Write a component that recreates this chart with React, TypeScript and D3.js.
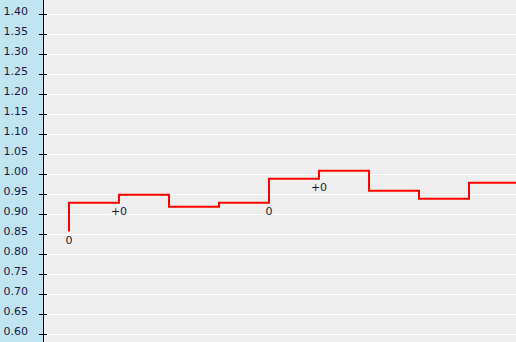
import React from "react";
import * as d3 from "d3";

const W = 516;
const H = 342;

const yTicks = [1.4, 1.35, 1.3, 1.25, 1.2, 1.15, 1.1, 1.05, 1.0, 0.95, 0.9, 0.85, 0.8, 0.75, 0.7, 0.65, 0.6];
const stepIndex = [0, 1, 2, 3, 4, 5, 6, 7, 8, 9];
const stepValues = [0.856, 0.928, 0.948, 0.918, 0.928, 0.988, 1.008, 0.958, 0.938, 0.978];
const pointLabels = ["0", "+0", "", "", "0", "+0", "", "", "", ""];

export default function App() {
  const x = d3.scaleLinear().domain([0, 1]).range([69, 119]);
  const y = d3.scaleLinear().domain([1.4, 0.6]).range([14, 334]);
  const data = stepIndex.map((i, k) => ({ i, v: stepValues[k], label: pointLabels[k] }));
  const line = d3
    .line<{ i: number; v: number }>()
    .x((d) => x(d.i))
    .y((d) => y(d.v))
    .curve(d3.curveStepBefore);
  const axisX = 43;
  const font = "Tahoma, 'DejaVu Sans', sans-serif";
  return (
    <svg
      width={W}
      height={H}
      style={{ position: "absolute", left: 0, top: 0, display: "block" }}
    >
      <defs>
        <clipPath id="plot">
          <rect x={axisX + 1} y={0} width={W - axisX - 1} height={H} />
        </clipPath>
      </defs>
      <rect x={0} y={0} width={W} height={H} fill="#eeeeee" />
      <rect x={0} y={0} width={axisX} height={H} fill="#c0e5f1" />
      {yTicks.map((t) => (
        <line
          key={"g" + t}
          x1={axisX + 3}
          x2={W}
          y1={Math.round(y(t)) + 0.5}
          y2={Math.round(y(t)) + 0.5}
          stroke="#ffffff"
          strokeWidth={1}
        />
      ))}
      <line x1={axisX + 0.5} x2={axisX + 0.5} y1={0} y2={H} stroke="#000" strokeWidth={1} />
      {yTicks.map((t) => (
        <g key={"t" + t}>
          <line
            x1={axisX - 4}
            x2={axisX + 4}
            y1={Math.round(y(t)) + 0.5}
            y2={Math.round(y(t)) + 0.5}
            stroke="#000"
            strokeWidth={1}
          />
          <text
            x={28}
            y={y(t) + 1}
            textAnchor="end"
            fontFamily={font}
            fontSize={11}
            fill="#1a1a48"
          >
            {t.toFixed(2)}
          </text>
        </g>
      ))}
      <g clipPath="url(#plot)">
        <path d={line(data) || ""} fill="none" stroke="#ff0000" strokeWidth={2} />
      </g>
      {data
        .filter((d) => d.label)
        .map((d, k) => (
          <text
            key={"l" + k}
            x={x(d.i)}
            y={y(d.v) + 12}
            textAnchor="middle"
            fontFamily={font}
            fontSize={11}
            fill="#1a1a38"
          >
            {d.label}
          </text>
        ))}
    </svg>
  );
}
